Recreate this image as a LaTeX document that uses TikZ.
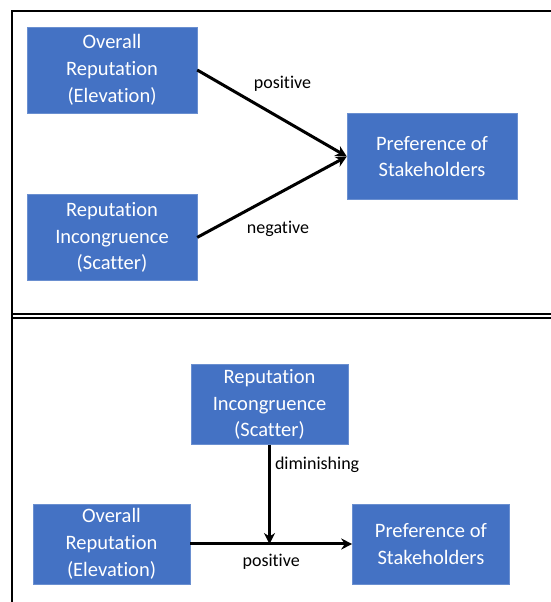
\documentclass[tikz,border=0pt]{standalone}
\usepackage{fontspec}
\setmainfont{Carlito}[Ligatures=NoCommon]
\usetikzlibrary{arrows.meta, positioning}
\definecolor{boxblue}{HTML}{4472C4}
\definecolor{boxline}{HTML}{6A8FD0}
\tikzstyle{block} = [rectangle, draw=boxline, fill=boxblue, text=white,
  minimum width=170pt, minimum height=86pt, align=center,
  font=\fontsize{20.5pt}{26.7pt}\selectfont]
\tikzstyle{small} = [minimum width=157pt, minimum height=80pt]
\tikzstyle{arrow} = [line width=3pt, -{Stealth[length=11pt, width=11pt]}]
\tikzstyle{lbl} = [font=\fontsize{18pt}{20pt}\selectfont, inner sep=1pt]
\tikzstyle{panel} = [line width=2pt]

\begin{document}
\begin{tikzpicture}[x=1pt, y=1pt]
    \useasboundingbox (0,0) rectangle (550,602);
    \draw[panel] (12,-5) -- (12,591) -- (556,591);
    \draw[panel] (12,288) -- (556,288);
    \draw[panel] (12,284) -- (556,284);
    % top panel
    \node[block] (elev) at (112,532) {Overall\\ Reputation\\ (Elevation)};
    \node[block, below=81pt of elev] (scat) {Reputation\\ Incongruence\\ (Scatter)};
    \node[block] (pref) at (432,445.5) {Preference of\\ Stakeholders};
    \draw[arrow] (elev.east) -- (pref.west)
      node[lbl, pos=0.57, above=25pt] {positive};
    \draw[arrow] (scat.east) -- (pref.west)
      node[lbl, pos=0.54, below=25pt] {negative};
    % bottom panel
    \node[block, small] (scat2) at (269.5,197.5) {Reputation\\ Incongruence\\ (Scatter)};
    \node[block, small] (elev2) at (111.5,58) {Overall\\ Reputation\\ (Elevation)};
    \node[block, small, right=162pt of elev2] (pref2) {Preference of\\ Stakeholders};
    \coordinate (meet) at (scat2.south |- elev2.east);
    \draw[arrow] (elev2.east) -- (pref2.west)
      node[lbl, midway, below=8pt] {positive};
    \draw[arrow] (scat2.south) -- (meet)
      node[lbl, pos=0.2, right=3pt] {diminishing};
  \end{tikzpicture}
\end{document}
